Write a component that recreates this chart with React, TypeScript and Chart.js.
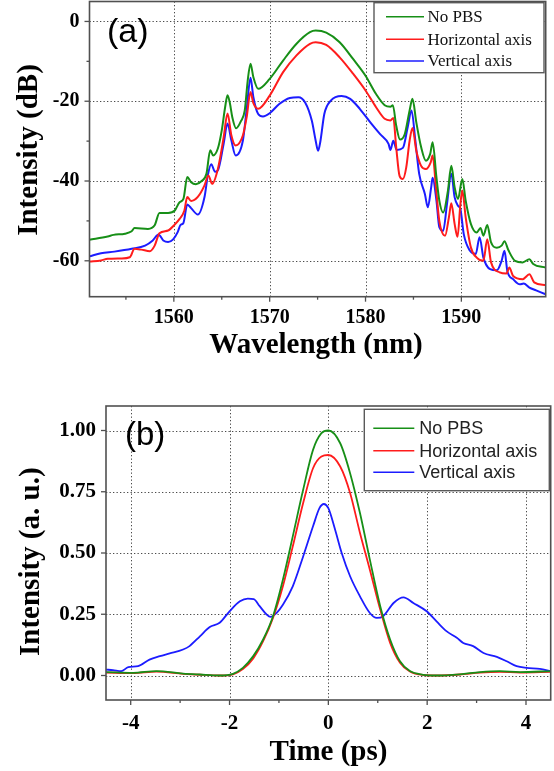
import React, { useEffect, useRef } from 'react';
import { Chart, registerables } from 'chart.js';

Chart.register(...registerables);

// ---------------- Data ----------------
const SERIES_NAMES = ['No PBS', 'Horizontal axis', 'Vertical axis'];
const SERIES_COLORS = ['#178f17', '#ff1c1c', '#1c1cff'];

// Panel (a): optical spectrum, wavelength (nm) / intensity (dB)
const A_NOPBS_WL = [1551.2,1553.1,1553.7,1554.9,1555.6,1555.9,1557.3,1558.0,1558.5,1559.4,1560.1,1560.6,1561.0,1561.4,1561.8,1562.3,1562.9,1563.4,1563.8,1564.1,1564.6,1565.0,1565.35,1565.6,1565.85,1566.1,1566.5,1567.0,1567.4,1567.7,1568.0,1568.3,1568.8,1570.0,1571.4,1572.8,1574.2,1574.8,1575.9,1577.3,1578.7,1580.0,1581.1,1582.0,1582.6,1582.85,1583.2,1583.6,1584.1,1584.6,1584.9,1585.3,1585.8,1586.3,1586.75,1587.0,1587.4,1587.7,1588.1,1588.6,1588.95,1589.3,1589.65,1590.1,1590.45,1591.0,1591.6,1592.0,1592.3,1592.7,1593.1,1593.7,1594.2,1594.5,1594.9,1595.6,1596.4,1597.1,1597.5,1598.8];
const A_NOPBS_DB = [-54.7,-53.9,-53.5,-53.2,-52.6,-51.8,-52.0,-51.1,-48.0,-48.0,-47.4,-45.3,-44.5,-39.0,-40.3,-40.8,-40.0,-38.2,-32.3,-33.6,-31.8,-27.3,-21.5,-18.5,-20.5,-24.0,-26.8,-25.0,-22.3,-15.0,-10.6,-14.0,-16.9,-14.4,-9.8,-5.6,-2.7,-2.3,-2.8,-5.2,-9.4,-13.6,-18.2,-21.0,-21.4,-21.0,-26.1,-29.6,-28.2,-22.3,-19.4,-25.3,-31.5,-34.9,-33.2,-30.3,-39.1,-44.9,-47.9,-42.4,-36.2,-41.6,-44.5,-39.5,-44.9,-50.8,-52.9,-51.8,-53.7,-51.0,-55.4,-56.7,-56.2,-55.1,-57.3,-60.0,-60.4,-59.6,-60.8,-61.7];

const A_HOR_WL = [1551.2,1552.4,1553.1,1554.5,1555.4,1555.9,1556.6,1557.5,1558.0,1558.5,1559.4,1560.1,1560.6,1561.1,1561.4,1561.8,1562.5,1563.2,1563.6,1564.0,1564.6,1565.2,1565.6,1566.0,1566.45,1567.2,1567.6,1568.0,1568.3,1568.8,1570.0,1571.4,1572.8,1574.2,1574.8,1575.9,1577.3,1578.7,1580.0,1581.1,1582.0,1582.6,1582.9,1583.2,1583.55,1583.9,1584.25,1584.6,1584.9,1585.3,1585.8,1586.3,1586.8,1587.0,1587.35,1587.7,1588.3,1588.7,1588.95,1589.3,1589.6,1589.9,1590.1,1590.45,1591.0,1591.6,1592.3,1592.7,1593.1,1594.0,1594.7,1595.0,1595.4,1596.4,1597.1,1597.6,1598.8];
const A_HOR_DB = [-60.2,-59.9,-59.5,-59.4,-59.1,-57.0,-57.2,-57.6,-56.2,-53.1,-52.4,-50.9,-49.5,-47.4,-44.0,-45.0,-44.0,-41.1,-38.6,-40.7,-36.9,-29.0,-23.1,-28.5,-31.1,-28.6,-24.0,-17.7,-20.5,-21.9,-18.6,-12.7,-8.5,-5.6,-5.2,-5.9,-9.0,-13.1,-17.3,-21.5,-24.4,-24.8,-24.2,-31.5,-38.7,-39.5,-36.6,-29.9,-26.7,-32.4,-36.2,-37.0,-35.3,-33.6,-41.6,-50.0,-53.7,-49.1,-45.6,-50.8,-54.0,-45.8,-42.4,-49.1,-56.7,-59.2,-60.0,-54.6,-60.4,-62.9,-63.2,-61.7,-63.8,-64.6,-63.4,-65.4,-66.1];

const A_VER_WL = [1551.2,1552.4,1553.8,1555.6,1557.0,1557.8,1558.4,1558.9,1559.4,1559.9,1560.4,1560.7,1561.0,1561.4,1561.8,1562.5,1563.2,1563.55,1563.9,1564.3,1564.6,1565.2,1565.6,1566.0,1566.45,1567.2,1567.6,1568.0,1568.3,1568.8,1569.3,1570.0,1571.0,1572.1,1573.0,1573.7,1574.4,1574.8,1575.05,1575.3,1575.7,1576.4,1577.5,1578.4,1579.4,1580.5,1581.5,1582.4,1582.6,1582.9,1583.25,1583.9,1584.4,1584.8,1585.2,1585.6,1586.2,1586.5,1586.85,1587.0,1587.4,1587.7,1588.1,1588.5,1588.95,1589.3,1589.65,1589.9,1590.25,1590.9,1591.5,1591.9,1592.3,1593.0,1593.7,1594.2,1594.5,1594.8,1595.4,1596.1,1596.5,1597.1,1597.8,1598.8];
const A_VER_DB = [-58.9,-58.1,-57.7,-57.0,-56.2,-54.9,-53.4,-54.9,-55.3,-54.7,-52.8,-51.0,-50.5,-45.9,-46.8,-48.4,-44.0,-38.5,-35.8,-37.7,-37.3,-30.6,-25.6,-29.8,-33.6,-29.9,-22.0,-14.1,-19.0,-23.2,-23.8,-23.0,-20.7,-19.2,-19.0,-20.3,-24.9,-29.9,-32.4,-29.9,-23.2,-19.8,-18.7,-19.4,-21.9,-25.3,-28.2,-30.7,-32.2,-29.9,-32.2,-31.7,-26.5,-22.3,-29.9,-38.2,-43.3,-46.6,-41.6,-39.2,-44.9,-51.6,-52.5,-45.8,-38.2,-44.1,-46.2,-47.0,-53.3,-57.5,-58.3,-54.1,-59.2,-62.1,-62.4,-60.0,-57.5,-62.6,-64.6,-65.9,-65.7,-66.7,-67.4,-68.4];

const A_X_TICKS = [1560, 1570, 1580, 1590];
const A_X_MINOR = [1555, 1565, 1575, 1585, 1595];
const A_Y_TICKS = [-60, -40, -20, 0];
const A_Y_MINOR = [-50, -30, -10];

// Panel (b): autocorrelation, time (ps) / intensity (a. u.)
const B_NOPBS_T = [-4.5,-3.95,-3.48,-2.94,-2.6,-2.2,-1.93,-1.73,-1.52,-1.32,-1.12,-0.92,-0.72,-0.51,-0.31,-0.14,0,0.24,0.44,0.64,0.84,1.05,1.25,1.45,1.65,1.92,2.19,2.66,3.07,3.47,3.88,4.5];
const B_NOPBS_I = [0.014,0.011,0.018,0.008,0.004,0.0,0.007,0.031,0.079,0.147,0.242,0.391,0.568,0.758,0.921,0.989,1.0,0.948,0.826,0.663,0.473,0.283,0.147,0.058,0.018,0.003,0.0,0.005,0.014,0.018,0.014,0.018];

const B_HOR_T = [-4.5,-3.95,-3.48,-2.94,-2.6,-2.2,-1.93,-1.73,-1.52,-1.32,-1.12,-0.92,-0.72,-0.51,-0.31,-0.14,0,0.24,0.44,0.64,0.84,1.05,1.25,1.45,1.65,1.92,2.19,2.66,3.07,3.47,3.88,4.5];
const B_HOR_I = [0.012,0.010,0.016,0.007,0.003,0.0,0.005,0.026,0.07,0.14,0.235,0.364,0.527,0.704,0.846,0.894,0.90,0.853,0.745,0.582,0.432,0.269,0.133,0.052,0.016,0.002,0.0,0.004,0.012,0.015,0.012,0.015];

const B_VER_T = [-4.5,-4.36,-4.19,-4.05,-3.85,-3.62,-3.41,-3.21,-2.94,-2.81,-2.6,-2.4,-2.2,-2.0,-1.79,-1.63,-1.51,-1.39,-1.25,-1.17,-1.05,-0.92,-0.72,-0.51,-0.31,-0.18,-0.09,0,0.13,0.27,0.44,0.64,0.84,0.98,1.11,1.32,1.52,1.72,1.99,2.19,2.39,2.6,2.73,2.93,3.14,3.41,3.61,3.81,4.01,4.28,4.5];
const B_VER_I = [0.024,0.022,0.018,0.034,0.038,0.065,0.079,0.09,0.106,0.12,0.16,0.198,0.215,0.262,0.303,0.314,0.312,0.283,0.249,0.239,0.255,0.289,0.364,0.486,0.609,0.683,0.70,0.683,0.6,0.5,0.405,0.323,0.255,0.235,0.242,0.296,0.319,0.296,0.262,0.221,0.181,0.154,0.133,0.12,0.092,0.076,0.058,0.038,0.031,0.027,0.018];

const B_X_TICKS = [-4, -2, 0, 2, 4];
const B_X_MINOR = [-3, -1, 1, 3];
const B_Y_TICKS = [0, 0.25, 0.5, 0.75, 1.0];
const B_Y_MINOR: number[] = [];

// ---------------- Styling ----------------
const SERIF = '"Liberation Serif", "Times New Roman", serif';
const SANS = '"Liberation Sans", Arial, sans-serif';
const FRAME = '#505050';

type PanelCfg = {
  id: string;
  minorX: number[];
  minorY: number[];
  xTitle: string;
  xTitlePos: [number, number];
  yTitle: string;
  yTitlePos: [number, number];
  titleSize: number;
  label: string;
  labelPos: [number, number];
  labelSize: number;
  legendBox: [number, number, number, number];
  legendRows: number[];
  legendLine: [number, number];
  legendTextX: number;
  legendFont: string;
  legendColor: string;
};

function panelPlugin(cfg: PanelCfg) {
  return {
    id: cfg.id,
    beforeDatasetsDraw(chart: any) {
      const { ctx, chartArea: a, scales } = chart;
      ctx.save();
      ctx.strokeStyle = '#4a4a4a';
      ctx.lineWidth = 1;
      ctx.setLineDash([1.3, 2.2]);
      for (const t of scales.x.ticks) {
        const px = Math.round(scales.x.getPixelForValue(t.value)) + 0.5;
        ctx.beginPath();
        ctx.moveTo(px, a.top);
        ctx.lineTo(px, a.bottom);
        ctx.stroke();
      }
      for (const t of scales.y.ticks) {
        const py = Math.round(scales.y.getPixelForValue(t.value)) + 0.5;
        ctx.beginPath();
        ctx.moveTo(a.left, py);
        ctx.lineTo(a.right, py);
        ctx.stroke();
      }
      ctx.restore();
    },
    afterDatasetsDraw(chart: any) {
      const { ctx, chartArea: a, scales } = chart;
      ctx.save();
      // frame
      ctx.strokeStyle = FRAME;
      ctx.lineWidth = 1.6;
      ctx.setLineDash([]);
      ctx.strokeRect(a.left, a.top, a.right - a.left, a.bottom - a.top);
      // outward tick marks
      const tick = (vals: number[], len: number, horiz: boolean) => {
        for (const v of vals) {
          ctx.beginPath();
          if (horiz) {
            const px = scales.x.getPixelForValue(v);
            ctx.moveTo(px, a.bottom);
            ctx.lineTo(px, a.bottom + len);
          } else {
            const py = scales.y.getPixelForValue(v);
            ctx.moveTo(a.left, py);
            ctx.lineTo(a.left - len, py);
          }
          ctx.stroke();
        }
      };
      ctx.lineWidth = 1.3;
      tick(scales.x.ticks.map((t: any) => t.value), 5, true);
      tick(cfg.minorX, 3, true);
      tick(scales.y.ticks.map((t: any) => t.value), 5, false);
      tick(cfg.minorY, 3, false);

      // legend
      const [bx0, by0, bx1, by1] = cfg.legendBox;
      ctx.fillStyle = '#ffffff';
      ctx.fillRect(bx0, by0, bx1 - bx0, by1 - by0);
      ctx.strokeStyle = '#5a5a5a';
      ctx.lineWidth = 1.4;
      ctx.strokeRect(bx0, by0, bx1 - bx0, by1 - by0);
      chart.data.datasets.forEach((ds: any, i: number) => {
        const y = cfg.legendRows[i];
        ctx.strokeStyle = ds.borderColor;
        ctx.lineWidth = 1.6;
        ctx.beginPath();
        ctx.moveTo(cfg.legendLine[0], y);
        ctx.lineTo(cfg.legendLine[1], y);
        ctx.stroke();
        ctx.fillStyle = cfg.legendColor;
        ctx.font = cfg.legendFont;
        ctx.textAlign = 'left';
        ctx.textBaseline = 'middle';
        ctx.fillText(ds.label, cfg.legendTextX, y + 1);
      });

      // panel label
      ctx.fillStyle = '#000';
      ctx.font = `${cfg.labelSize}px ${SANS}`;
      ctx.textAlign = 'left';
      ctx.textBaseline = 'alphabetic';
      ctx.fillText(cfg.label, cfg.labelPos[0], cfg.labelPos[1]);

      // axis titles
      ctx.font = `bold ${cfg.titleSize}px ${SERIF}`;
      ctx.textAlign = 'center';
      ctx.textBaseline = 'alphabetic';
      ctx.fillText(cfg.xTitle, cfg.xTitlePos[0], cfg.xTitlePos[1]);
      ctx.translate(cfg.yTitlePos[0], cfg.yTitlePos[1]);
      ctx.rotate(-Math.PI / 2);
      ctx.fillText(cfg.yTitle, 0, 0);
      ctx.restore();
    },
  };
}

const toXY = (xs: number[], ys: number[]) => xs.map((x, i) => ({ x, y: ys[i] }));

function makeDatasets(series: { x: number[]; y: number[] }[], width: number) {
  return series.map((s, i) => ({
    label: SERIES_NAMES[i],
    data: toXY(s.x, s.y),
    borderColor: SERIES_COLORS[i],
    backgroundColor: SERIES_COLORS[i],
    borderWidth: width,
    pointRadius: 0,
    fill: false,
    cubicInterpolationMode: 'monotone' as const,
    tension: 0.4,
  }));
}

type AxisLayout = {
  xMin: number; xMax: number; yMin: number; yMax: number;
  xTicks: number[]; yTicks: number[];
  yWidth: number; xHeight: number;
  padTop: number; padRight: number;
  tickSize: number; xTickPad: number; yTickPad: number;
  yFmt: (v: number) => string;
};

function buildOptions(L: AxisLayout) {
  const tickFont = { family: SERIF, size: L.tickSize, weight: 'bold' as const };
  return {
    animation: false as const,
    responsive: false,
    maintainAspectRatio: false,
    devicePixelRatio: 1,
    layout: { autoPadding: false, padding: { top: L.padTop, right: L.padRight, bottom: 0, left: 0 } },
    plugins: { legend: { display: false }, tooltip: { enabled: false }, title: { display: false } },
    events: [] as any[],
    scales: {
      x: {
        type: 'linear' as const,
        min: L.xMin,
        max: L.xMax,
        grid: { display: false },
        border: { display: false },
        ticks: {
          autoSkip: false,
          maxRotation: 0,
          minRotation: 0,
          padding: L.xTickPad,
          color: '#000',
          font: tickFont,
          callback: (v: any) => String(v),
        },
        afterBuildTicks: (s: any) => { s.ticks = L.xTicks.map((v) => ({ value: v })); },
        afterFit: (s: any) => {
          s.height = L.xHeight;
          s.paddingLeft = 0; s.paddingRight = 0; s.paddingTop = 0; s.paddingBottom = 0;
        },
      },
      y: {
        type: 'linear' as const,
        min: L.yMin,
        max: L.yMax,
        grid: { display: false },
        border: { display: false },
        ticks: {
          autoSkip: false,
          padding: L.yTickPad,
          color: '#000',
          font: tickFont,
          callback: (v: any) => L.yFmt(Number(v)),
        },
        afterBuildTicks: (s: any) => { s.ticks = L.yTicks.map((v) => ({ value: v })); },
        afterFit: (s: any) => {
          s.width = L.yWidth;
          s.paddingLeft = 0; s.paddingRight = 0; s.paddingTop = 0; s.paddingBottom = 0;
        },
      },
    },
  };
}

export default function App() {
  const refA = useRef<HTMLCanvasElement>(null);
  const refB = useRef<HTMLCanvasElement>(null);

  useEffect(() => {
    const chartA = new Chart(refA.current as HTMLCanvasElement, {
      type: 'line',
      data: {
        datasets: makeDatasets(
          [
            { x: A_NOPBS_WL, y: A_NOPBS_DB },
            { x: A_HOR_WL, y: A_HOR_DB },
            { x: A_VER_WL, y: A_VER_DB },
          ],
          2.0,
        ) as any,
      },
      options: buildOptions({
        xMin: 1551.2, xMax: 1598.8, yMin: -69, yMax: 5,
        xTicks: A_X_TICKS, yTicks: A_Y_TICKS,
        yWidth: 89.5, xHeight: 88.3, padTop: 1.5, padRight: 8.3,
        tickSize: 20, xTickPad: 1, yTickPad: 2,
        yFmt: (v) => String(v),
      }) as any,
      plugins: [
        panelPlugin({
          id: 'panelA',
          minorX: A_X_MINOR,
          minorY: A_Y_MINOR,
          xTitle: 'Wavelength (nm)',
          xTitlePos: [316, 353],
          yTitle: 'Intensity (dB)',
          yTitlePos: [37, 150],
          titleSize: 29,
          label: '(a)',
          labelPos: [107, 41.5],
          labelSize: 34,
          legendBox: [374, 2.7, 544, 72.7],
          legendRows: [16.7, 39.3, 61],
          legendLine: [386, 424],
          legendTextX: 427.5,
          legendFont: `17px ${SERIF}`,
          legendColor: '#111',
        }),
      ],
    });

    const chartB = new Chart(refB.current as HTMLCanvasElement, {
      type: 'line',
      data: {
        datasets: makeDatasets(
          [
            { x: B_NOPBS_T, y: B_NOPBS_I },
            { x: B_HOR_T, y: B_HOR_I },
            { x: B_VER_T, y: B_VER_I },
          ],
          1.8,
        ) as any,
      },
      options: buildOptions({
        xMin: -4.5, xMax: 4.5, yMin: -0.1, yMax: 1.1,
        xTicks: B_X_TICKS, yTicks: B_Y_TICKS,
        yWidth: 106, xHeight: 71, padTop: 21, padRight: 3.3,
        tickSize: 21, xTickPad: 3, yTickPad: 2,
        yFmt: (v) => v.toFixed(2),
      }) as any,
      plugins: [
        panelPlugin({
          id: 'panelB',
          minorX: B_X_MINOR,
          minorY: B_Y_MINOR,
          xTitle: 'Time (ps)',
          xTitlePos: [328.5, 375],
          yTitle: 'Intensity (a. u.)',
          yTitlePos: [39, 176.7],
          titleSize: 29,
          label: '(b)',
          labelPos: [125, 59.8],
          labelSize: 33,
          legendBox: [364.3, 24.3, 549.3, 105.7],
          legendRows: [43.3, 65.7, 87.3],
          legendLine: [373.3, 414.3],
          legendTextX: 419.3,
          legendFont: `18px ${SANS}`,
          legendColor: '#222',
        }),
      ],
    });

    return () => {
      chartA.destroy();
      chartB.destroy();
    };
  }, []);

  return (
    <div style={{ position: 'absolute', left: 0, top: 0, width: 554, height: 771, background: '#fff' }}>
      <canvas
        ref={refA}
        width={554}
        height={385}
        style={{ position: 'absolute', left: 0, top: 0, width: 554, height: 385 }}
      />
      <canvas
        ref={refB}
        width={554}
        height={386}
        style={{ position: 'absolute', left: 0, top: 385, width: 554, height: 386 }}
      />
    </div>
  );
}
